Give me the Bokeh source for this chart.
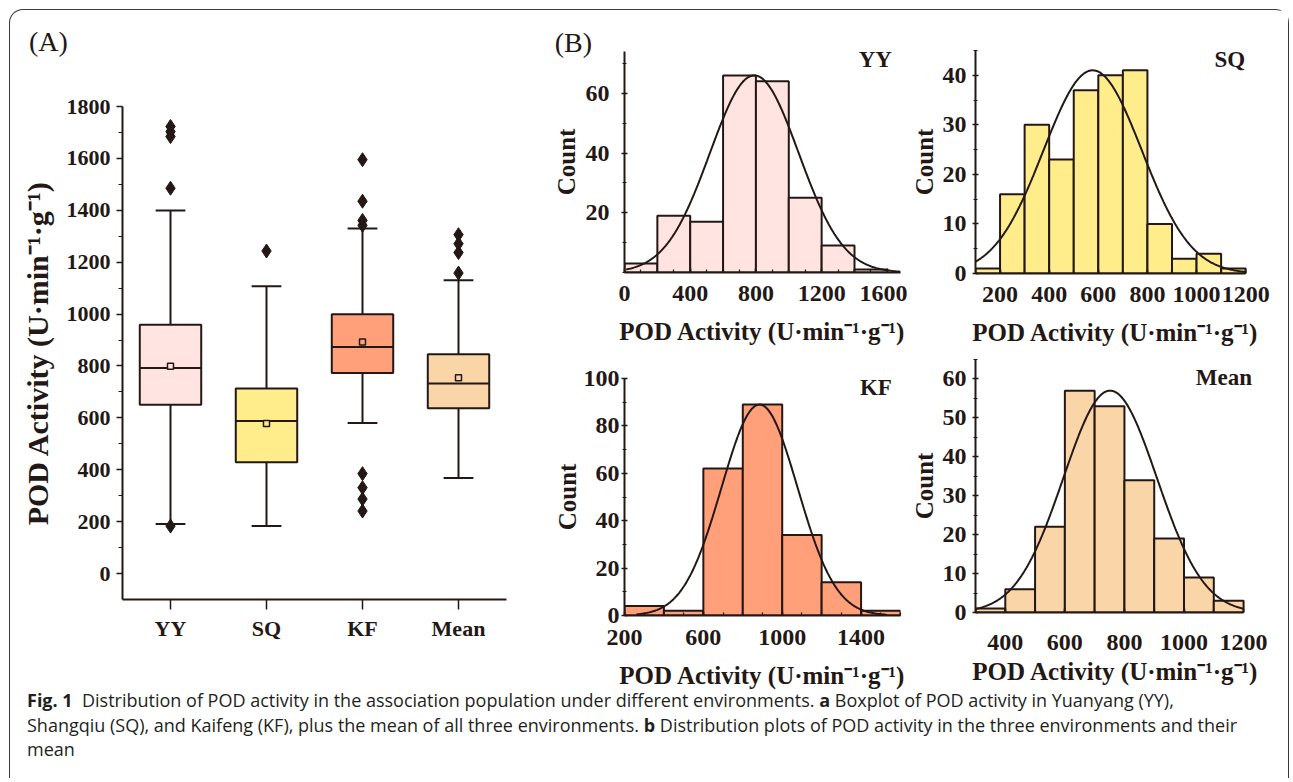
from bokeh.plotting import figure
from bokeh.models import FixedTicker, Label, Div, Range1d
from bokeh.layouts import row, column
from bokeh.embed import file_html
from bokeh.resources import INLINE
import numpy as np

FONT = "Liberation Serif"
INK = "#231815"

# ---------------- Panel A: boxplot data ----------------
box_cats = ["YY", "SQ", "KF", "Mean"]
box_colors = ["#FFE4E1", "#FFEC8B", "#FFA07A", "#FAD5A8"]
box_q1 = [651, 429, 773, 637]
box_med = [792, 588, 873, 732]
box_q3 = [959, 713, 999, 845]
box_mean = [799, 578, 892, 755]
box_wlo = [191, 183, 580, 368]
box_whi = [1399, 1107, 1330, 1130]
out_yy = [1723, 1703, 1684, 1485, 183]
out_sq = [1243]
out_kf = [1595, 1435, 1361, 1342, 385, 331, 287, 241]
out_mean = [1306, 1271, 1237, 1158]

# ---------------- Panel B: histogram data ----------------
yy_edges = [0, 200, 400, 600, 800, 1000, 1200, 1400, 1600]
yy_counts = [3, 19, 17, 66, 64, 25, 9, 1]
yy_fit = (790, 270, 66)          # mean, sd, peak height of the fitted normal curve
sq_edges = [100, 200, 300, 400, 500, 600, 700, 800, 900, 1000, 1100, 1200]
sq_counts = [1, 16, 30, 23, 37, 40, 41, 10, 3, 4, 1]
sq_fit = (577, 200, 41)
kf_edges = [200, 400, 600, 800, 1000, 1200, 1400, 1600]
kf_counts = [4, 2, 62, 89, 34, 14, 2]
kf_fit = (885, 193, 89)
mean_edges = [300, 400, 500, 600, 700, 800, 900, 1000, 1100, 1200]
mean_counts = [1, 6, 22, 57, 53, 34, 19, 9, 3]
mean_fit = (752, 157, 57)

AXIS_LABEL = "POD Activity (U\u00b7min\u207b\u00b9\u00b7g\u207b\u00b9)"


def style_axes(p, tick_size, label_size):
    for ax in (p.xaxis, p.yaxis):
        ax.axis_line_width = 2
        ax.axis_line_color = INK
        ax.major_tick_line_color = INK
        ax.minor_tick_line_color = INK
        ax.major_tick_line_width = 1.5
        ax.minor_tick_line_width = 1.2
        ax.major_label_text_font = FONT
        ax.major_label_text_font_style = "bold"
        ax.major_label_text_font_size = tick_size
        ax.major_label_text_color = INK
        ax.axis_label_text_font = FONT
        ax.axis_label_text_font_style = "bold"
        ax.axis_label_text_font_size = label_size
        ax.axis_label_text_color = INK
    p.xgrid.visible = False
    p.ygrid.visible = False
    p.outline_line_color = None
    p.background_fill_color = "white"
    p.border_fill_color = "white"


# ---------------- Figure A ----------------
pa = figure(width=539, height=648, x_range=Range1d(0.5, 4.5), y_range=Range1d(-100, 1800),
            output_backend="svg", toolbar_location=None,
            min_border_left=112, min_border_right=43, min_border_top=46, min_border_bottom=109)
style_axes(pa, "22px", "30px")
xs = [i + 1 for i in range(len(box_cats))]
bw = 0.64
cw = 0.31
pa.segment(x0=xs, y0=box_q3, x1=xs, y1=box_whi, line_color=INK, line_width=2)
pa.segment(x0=xs, y0=box_q1, x1=xs, y1=box_wlo, line_color=INK, line_width=2)
pa.segment(x0=[x - cw / 2 for x in xs], y0=box_whi, x1=[x + cw / 2 for x in xs], y1=box_whi,
           line_color=INK, line_width=2)
pa.segment(x0=[x - cw / 2 for x in xs], y0=box_wlo, x1=[x + cw / 2 for x in xs], y1=box_wlo,
           line_color=INK, line_width=2)
pa.vbar(x=xs, bottom=box_q1, top=box_q3, width=bw, fill_color=box_colors,
        line_color=INK, line_width=2)
pa.segment(x0=[x - bw / 2 for x in xs], y0=box_med, x1=[x + bw / 2 for x in xs], y1=box_med,
           line_color=INK, line_width=2)
pa.scatter(x=xs, y=box_mean, marker="square", size=6, fill_color=box_colors,
           line_color=INK, line_width=1.5)
for x, vals in zip(xs, [out_yy, out_sq, out_kf, out_mean]):
    pa.scatter(x=[x] * len(vals), y=vals, marker="diamond", size=14,
               fill_color=INK, line_color=INK)
pa.yaxis.ticker = FixedTicker(ticks=list(range(0, 1801, 200)),
                              minor_ticks=list(range(100, 1800, 200)))
pa.yaxis.major_tick_in = 0
pa.yaxis.major_tick_out = 6
pa.yaxis.minor_tick_in = 0
pa.yaxis.minor_tick_out = 4
pa.yaxis.major_label_standoff = 6
pa.yaxis.axis_label = AXIS_LABEL
pa.yaxis.axis_label_standoff = 10
pa.xaxis.ticker = FixedTicker(ticks=xs, minor_ticks=[])
pa.xaxis.major_label_overrides = {x: c for x, c in zip(xs, box_cats)}
pa.xaxis.major_tick_in = 0
pa.xaxis.major_tick_out = 10
pa.xaxis.major_label_standoff = 6

label_a = Div(text='<div style="font-family: \'Liberation Serif\', serif; font-size: 28px; '
                   'line-height: 32px; color: #231815; padding-left: 19px; padding-top: 16px;">(A)</div>',
              width=539, height=50, margin=(0, 0, 0, 0))


# ---------------- Histograms ----------------
def hist_fig(edges, counts, fit, color, title, xr, xb, yr, yb, xt, yt, yminor, curve_lim,
             w, h, bl, br, bt, bb, title_xy, ystand, xstand):
    p = figure(width=w, height=h, x_range=Range1d(*xr), y_range=Range1d(*yr),
               output_backend="svg", toolbar_location=None,
               min_border_left=bl, min_border_right=br, min_border_top=bt, min_border_bottom=bb)
    style_axes(p, "24px", "25px")
    p.quad(left=edges[:-1], right=edges[1:], bottom=0, top=counts, fill_color=color,
           line_color=INK, line_width=2)
    mu, sd, peak = fit
    cx = np.linspace(curve_lim[0], curve_lim[1], 300)
    cy = peak * np.exp(-(cx - mu) ** 2 / (2 * sd ** 2))
    p.line(cx, cy, line_color=INK, line_width=2)
    p.xaxis.bounds = xb
    p.yaxis.bounds = yb
    p.xaxis.ticker = FixedTicker(ticks=xt, minor_ticks=list(range(int(xb[0]) // 100 * 100, int(xb[1]) + 1, 100)))
    p.yaxis.ticker = FixedTicker(ticks=yt, minor_ticks=yminor)
    p.xaxis.major_tick_in = 4
    p.xaxis.major_tick_out = 0
    p.xaxis.minor_tick_in = 3
    p.xaxis.minor_tick_out = 0
    p.xaxis.major_label_standoff = xstand[0]
    p.yaxis.major_tick_in = 3
    p.yaxis.major_tick_out = 3
    p.yaxis.minor_tick_in = 2
    p.yaxis.minor_tick_out = 2
    p.yaxis.major_label_standoff = ystand[0]
    p.xaxis.axis_label = AXIS_LABEL
    p.yaxis.axis_label = "Count"
    p.xaxis.axis_label_standoff = xstand[1]
    p.yaxis.axis_label_standoff = ystand[1]
    p.add_layout(Label(x=title_xy[0], y=title_xy[1], text=title, text_font=FONT,
                       text_font_style="bold", text_font_size="23px", text_color=INK,
                       text_align="right", text_baseline="middle"))
    return p


p_yy = hist_fig(yy_edges, yy_counts, yy_fit, box_colors[0], "YY", (0, 1680), (0, 1680), (0, 74), (0, 74),
                [0, 400, 800, 1200, 1600], [20, 40, 60], list(range(0, 75, 10)), (10, 1680),
                358, 348, 72, 6, 41, 86, (1628, 71.4), (12, 3), (13, 14))
p_sq = hist_fig(sq_edges, sq_counts, sq_fit, box_colors[1], "SQ", (100, 1240), (100, 1200), (0, 45), (0, 45),
                [200, 400, 600, 800, 1000, 1200], [0, 10, 20, 30, 40], list(range(0, 46, 5)),
                (100, 1200), 381, 348, 65, 33, 40, 85, (1198, 43.2), (6, 2), (13, 14))
p_kf = hist_fig(kf_edges, kf_counts, kf_fit, box_colors[2], "KF", (200, 1600), (200, 1600), (0, 100), (0, 100),
                [200, 600, 1000, 1400], [0, 20, 40, 60, 80, 100], list(range(0, 101, 10)),
                (260, 1530), 358, 350, 72, 7, 20, 93, (1556, 96.4), (2, 0), (14, 14))
p_mean = hist_fig(mean_edges, mean_counts, mean_fit, box_colors[3], "Mean", (300, 1240), (300, 1200), (0, 65), (0, 65),
                  [400, 600, 800, 1000, 1200], [0, 10, 20, 30, 40, 50, 60], list(range(0, 66, 5)),
                  (300, 1200), 381, 350, 64, 32, 1, 96, (1228, 60.3), (6, 2), (22, 5))

# panel label (B) as the YY figure's title, pushed left over the border
t = p_yy.title
t.text = "(B)"
t.align = "left"
t.offset = -69.7
t.text_font = FONT
t.text_font_style = "normal"
t.text_font_size = "28px"
t.text_color = INK
if "standoff" in t.properties():
    t.standoff = -12

caption_html = (
    '<div style="position: relative; top: -20px; font-family: \'Open Sans\', sans-serif; '
    'font-size: 18px; line-height: 24.5px; color: #231f20; white-space: nowrap; padding-left: 17px;">'
    '<b>Fig. 1</b>&nbsp; Distribution of POD activity in the association population under different '
    'environments. <b>a</b> Boxplot of POD activity in Yuanyang (YY),<br>'
    'Shangqiu (SQ), and Kaifeng (KF), plus the mean of all three environments. <b>b</b> Distribution '
    'plots of POD activity in the three environments and their<br>mean</div>'
)
caption = Div(text=caption_html, width=1278, height=70, margin=(0, 0, 0, 0))

left = column(label_a, pa, spacing=0)
right = row(column(p_yy, p_kf, spacing=0), column(p_sq, p_mean, spacing=0), spacing=0)
top = row(left, right, spacing=0)
layout = column(top, caption, spacing=0,
                styles={"margin-left": "9px", "margin-top": "9px",
                        "border": "1.5px solid #3a3a3a", "border-bottom": "none",
                        "border-radius": "14px 14px 0 0"})

open("out.html", "w").write(file_html(layout, INLINE))
